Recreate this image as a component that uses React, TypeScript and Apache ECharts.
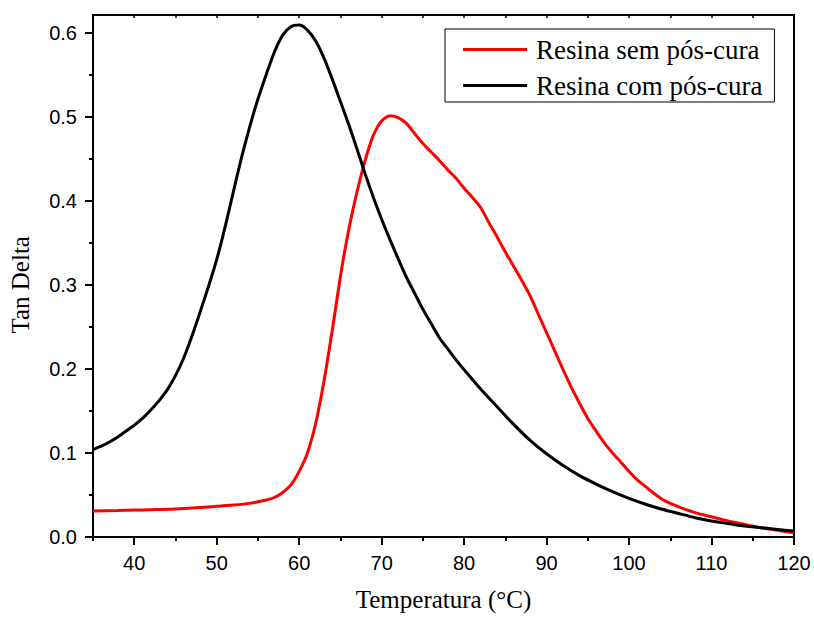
import React, { useEffect, useRef } from "react";
import * as echarts from "echarts";

// Temperature (°C) and Tan Delta values
const semTemps = [35, 38, 40, 42, 44, 46, 48, 50, 52, 54, 55, 56, 57, 58, 59, 60, 61, 62, 63, 64, 65, 66, 67, 68, 69, 70, 71, 72, 73, 74, 75, 76, 77, 78, 79, 80, 81, 82, 83, 84, 85, 86, 87, 88, 89, 90, 91, 92, 93, 94, 95, 96, 97, 98, 99, 100, 101, 102, 103, 104, 105, 106, 108, 110, 112, 114, 116, 118, 120];
const semValues = [0.031, 0.0315, 0.032, 0.0325, 0.033, 0.034, 0.035, 0.0365, 0.038, 0.040, 0.042, 0.044, 0.047, 0.053, 0.062, 0.078, 0.100, 0.135, 0.185, 0.245, 0.310, 0.365, 0.410, 0.448, 0.478, 0.495, 0.501, 0.499, 0.492, 0.480, 0.468, 0.458, 0.448, 0.437, 0.427, 0.415, 0.404, 0.392, 0.374, 0.357, 0.339, 0.322, 0.305, 0.287, 0.265, 0.243, 0.221, 0.199, 0.178, 0.159, 0.141, 0.126, 0.112, 0.100, 0.089, 0.078, 0.068, 0.060, 0.052, 0.045, 0.040, 0.036, 0.029, 0.024, 0.019, 0.015, 0.011, 0.008, 0.005];

const comTemps = [35, 36, 37, 38, 39, 40, 41, 42, 43, 44, 45, 46, 47, 48, 49, 50, 51, 52, 53, 54, 55, 56, 57, 58, 59, 60, 61, 62, 63, 64, 65, 66, 67, 68, 69, 70, 71, 72, 73, 74, 75, 76, 77, 78, 79, 80, 82, 84, 86, 88, 90, 92, 94, 96, 98, 100, 102, 104, 106, 108, 110, 112, 114, 116, 118, 120];
const comValues = [0.104, 0.108, 0.113, 0.119, 0.126, 0.133, 0.141, 0.151, 0.162, 0.175, 0.192, 0.213, 0.239, 0.268, 0.298, 0.330, 0.368, 0.410, 0.451, 0.488, 0.521, 0.550, 0.577, 0.597, 0.607, 0.609, 0.603, 0.590, 0.570, 0.545, 0.518, 0.491, 0.462, 0.432, 0.404, 0.378, 0.354, 0.331, 0.309, 0.290, 0.271, 0.254, 0.237, 0.224, 0.211, 0.199, 0.176, 0.155, 0.134, 0.115, 0.099, 0.085, 0.073, 0.063, 0.054, 0.046, 0.039, 0.033, 0.028, 0.023, 0.019, 0.016, 0.013, 0.011, 0.009, 0.007];

const seriesNames = ["Resina sem pós-cura", "Resina com pós-cura"];
const seriesColors = ["#ff0000", "#000000"];

// axis ranges and tick steps
const xRange = [35, 120];
const xLabelStart = 40;
const xMajorStep = 10;
const xMinorStep = 5;
const yRange = [0, 0.621];
const yLabelEnd = 0.6;
const yMajorStep = 0.1;
const yMinorStep = 0.05;

const xTitle = "Temperatura (°C)";
const yTitle = "Tan Delta";

const SANS = "'Liberation Sans', Arial, sans-serif";
const SERIF = "'Liberation Serif', 'Times New Roman', serif";

export default function App() {
  const ref = useRef<HTMLDivElement>(null);
  useEffect(() => {
    if (!ref.current) return;
    const chart = echarts.init(ref.current, null, { renderer: "svg" });
    const pairs = (t: number[], v: number[]) => t.map((x, i) => [x, v[i]]);

    // plot rectangle
    const L = 93, R = 20, T = 15, B = 80;
    const W = 814 - L - R;
    const H = 617 - T - B;
    const pxPerX = W / (xRange[1] - xRange[0]);
    const pxPerY = H / (yRange[1] - yRange[0]);
    const gridB_left = L + (xLabelStart - xRange[0]) * pxPerX;
    const gridD_top = T + (yRange[1] - yLabelEnd) * pxPerY;

    const black = "#000";
    const hiddenAxis = (gi: number, min: number, max: number) => ({
      type: "value", gridIndex: gi, min, max, show: false,
    });

    chart.setOption({
      animation: false,
      grid: [
        { left: L, right: R, top: T, bottom: B, show: false },
        { left: gridB_left, right: R, top: T, bottom: B, show: false },
        { left: L, right: R, top: gridD_top, bottom: B, show: false },
      ],
      legend: {
        orient: "vertical",
        left: 445,
        top: 29,
        padding: [7, 12, 3, 18],
        itemGap: 9,
        itemWidth: 64,
        itemHeight: 3,
        icon: "rect",
        borderColor: black,
        borderWidth: 1,
        textStyle: { fontFamily: SERIF, fontSize: 27, color: black, padding: [0, 0, 0, 4] },
        data: seriesNames,
      },
      xAxis: [
        {
          type: "value", gridIndex: 0, min: xRange[0], max: xRange[1], interval: xMinorStep,
          position: "bottom",
          splitLine: { show: false },
          axisLine: { show: true, onZero: false, lineStyle: { color: black, width: 2 } },
          axisTick: { show: true, length: 4, lineStyle: { color: black, width: 2 } },
          axisLabel: { show: false },
          name: xTitle,
          nameLocation: "middle",
          nameGap: 50,
          nameTextStyle: { fontFamily: SERIF, fontSize: 25, color: black },
        },
        {
          type: "value", gridIndex: 0, min: xRange[0], max: xRange[1], interval: xMinorStep,
          position: "top",
          splitLine: { show: false },
          axisLine: { show: true, onZero: false, lineStyle: { color: black, width: 2 } },
          axisTick: { show: true, inside: true, length: 3, lineStyle: { color: black, width: 1.5 } },
          axisLabel: { show: false },
        },
        {
          type: "value", gridIndex: 1, min: xLabelStart, max: xRange[1], interval: xMajorStep,
          position: "bottom",
          splitLine: { show: false },
          axisLine: { show: false, onZero: false },
          axisTick: { show: true, length: 8, lineStyle: { color: black, width: 2 } },
          axisLabel: { show: true, margin: 16, fontFamily: SANS, fontSize: 20, color: black },
        },
        hiddenAxis(2, xRange[0], xRange[1]),
      ],
      yAxis: [
        {
          type: "value", gridIndex: 0, min: yRange[0], max: yRange[1],
          position: "left",
          splitLine: { show: false },
          axisLine: { show: true, onZero: false, lineStyle: { color: black, width: 2 } },
          axisTick: { show: false },
          axisLabel: { show: false },
        },
        {
          type: "value", gridIndex: 0, min: yRange[0], max: yRange[1],
          position: "right",
          splitLine: { show: false },
          axisLine: { show: true, onZero: false, lineStyle: { color: black, width: 2 } },
          axisTick: { show: false },
          axisLabel: { show: false },
        },
        hiddenAxis(1, yRange[0], yRange[1]),
        {
          type: "value", gridIndex: 2, min: yRange[0], max: yLabelEnd, interval: yMajorStep,
          position: "left",
          splitLine: { show: false },
          axisLine: { show: false, onZero: false },
          axisTick: { show: true, length: 8, lineStyle: { color: black, width: 2 } },
          axisLabel: {
            show: true, margin: 16, fontFamily: SANS, fontSize: 20, color: black,
            formatter: (v: number) => v.toFixed(1),
          },
          name: yTitle,
          nameLocation: "middle",
          nameGap: 60,
          nameTextStyle: { fontFamily: SERIF, fontSize: 25, color: black },
        },
        {
          type: "value", gridIndex: 2, min: yRange[0], max: yLabelEnd, interval: yMinorStep,
          position: "left",
          splitLine: { show: false },
          axisLine: { show: false, onZero: false },
          axisTick: { show: true, length: 4, lineStyle: { color: black, width: 2 } },
          axisLabel: { show: false },
        },
      ],
      series: [
        {
          name: seriesNames[0],
          type: "line",
          xAxisIndex: 0,
          yAxisIndex: 0,
          data: pairs(semTemps, semValues),
          showSymbol: false,
          symbol: "none",
          smooth: 0.25,
          lineStyle: { color: seriesColors[0], width: 3 },
          itemStyle: { color: seriesColors[0] },
          z: 3,
        },
        {
          name: seriesNames[1],
          type: "line",
          xAxisIndex: 0,
          yAxisIndex: 0,
          data: pairs(comTemps, comValues),
          showSymbol: false,
          symbol: "none",
          smooth: 0.25,
          lineStyle: { color: seriesColors[1], width: 3 },
          itemStyle: { color: seriesColors[1] },
          z: 4,
        },
      ],
    });
    return () => chart.dispose();
  }, []);
  return (
    <div
      ref={ref}
      style={{ position: "fixed", left: 0, top: 0, width: 814, height: 617, background: "#fff" }}
    />
  );
}
